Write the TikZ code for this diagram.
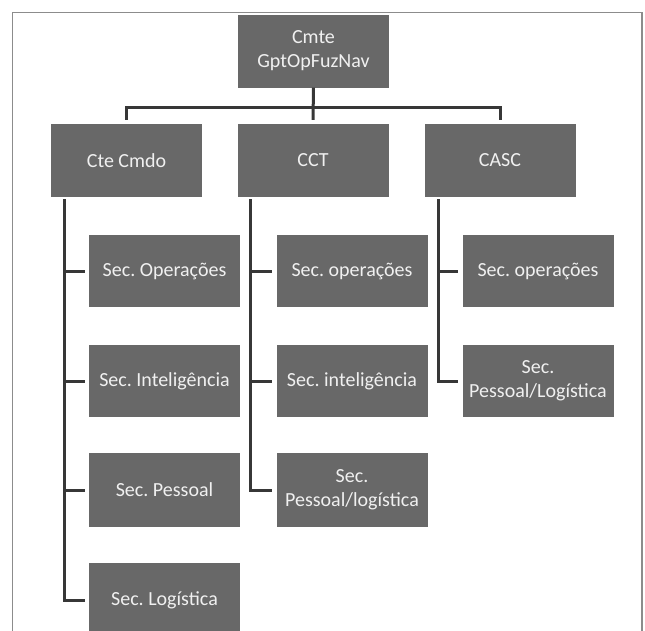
\documentclass[tikz,border=0pt]{standalone}
\usepackage{fontspec}
\setmainfont{Carlito}
\frenchspacing
\definecolor{boxgray}{RGB}{104,104,104}
\definecolor{linkgray}{RGB}{55,55,55}
\definecolor{framegray}{RGB}{140,140,140}
\begin{document}
\begin{tikzpicture}[x=1pt,y=-1pt,
  unit/.style={fill=boxgray,text=white!94!black,minimum width=151pt,minimum height=73pt,
    inner sep=0pt,align=center,font=\fontsize{20}{24}\selectfont},
  link/.style={draw=linkgray,line width=3pt}]
  \useasboundingbox (0,0) rectangle (645,630);
  \draw[framegray,line width=1.5pt] (12.7,640) -- (12.7,12.7) -- (642,12.7) -- (642,640);
  \node[unit] (cmte) at (313.5,51) {Cmte\\GptOpFuzNav};
  \node[unit] (cte) at (126.5,160.5) {Cte Cmdo};
  \node[unit] (cct) at (313,160.5) {CCT};
  \node[unit] (casc) at (500,160.5) {CASC};
  \node[unit,minimum height=72pt] (op1) at (164.5,271) {Sec. Operações};
  \node[unit,minimum height=72pt] (int1) at (164.5,381) {Sec. Inteligência};
  \node[unit,minimum height=74pt] (pes1) at (164.5,490) {Sec. Pessoal};
  \node[unit,minimum height=74pt] (log1) at (164.5,600) {Sec. Logística};
  \node[unit,minimum height=72pt] (op2) at (352,271) {Sec. operações};
  \node[unit,minimum height=72pt] (int2) at (352,381) {Sec. inteligência};
  \node[unit,minimum height=74pt] (pl2) at (352,490) {Sec.\\Pessoal/logística};
  \node[unit,minimum height=72pt] (op3) at (538,271) {Sec. operações};
  \node[unit,minimum height=72pt] (pl3) at (538,381) {Sec.\\Pessoal/Logística};
  \coordinate (bar) at (313,107);
  \coordinate (t1) at ([xshift=14pt,yshift=-2pt]cte.south west);
  \coordinate (t2) at ([xshift=13pt,yshift=-2pt]cct.south west);
  \coordinate (t3) at ([xshift=14pt,yshift=-2pt]casc.south west);
  \draw[link] (cmte.south) -- ([yshift=4pt]cct.north);
  \draw[link] ([yshift=4pt]cte.north) -- (cte.north |- bar) -- (casc.north |- bar) -- ([yshift=4pt]casc.north);
  \draw[link] (t1) |- ([xshift=-4pt]log1.west);
  \draw[link] (t1 |- op1.west) -- ([xshift=-4pt]op1.west);
  \draw[link] (t1 |- int1.west) -- ([xshift=-4pt]int1.west);
  \draw[link] (t1 |- pes1.west) -- ([xshift=-4pt]pes1.west);
  \draw[link] (t2) |- ([xshift=-4pt]pl2.west);
  \draw[link] (t2 |- op2.west) -- ([xshift=-4pt]op2.west);
  \draw[link] (t2 |- int2.west) -- ([xshift=-4pt]int2.west);
  \draw[link] (t3) |- ([xshift=-4pt]pl3.west);
  \draw[link] (t3 |- op3.west) -- ([xshift=-4pt]op3.west);
\end{tikzpicture}
\end{document}
